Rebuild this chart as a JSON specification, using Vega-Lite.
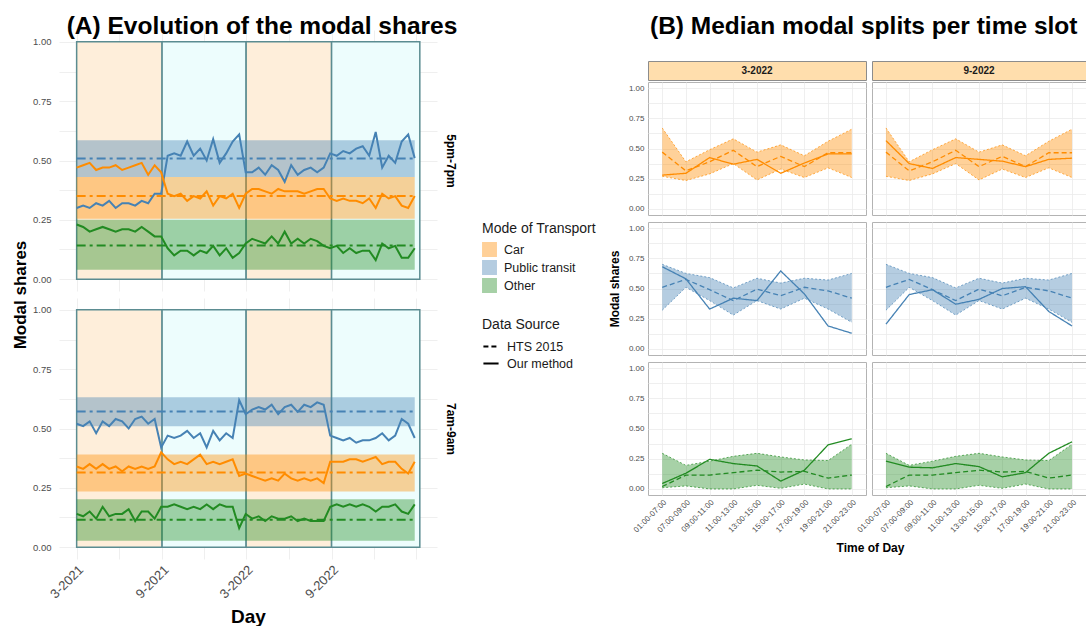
{
"$schema": "https://vega.github.io/schema/vega-lite/v6.json",
"background": "white",
"padding": {"left": 11, "top": 13, "right": 0, "bottom": 0},
"spacing": 149,
"datasets": {
"seasons": [
{"s":"summer","d":"2021-03-01","d2":"2021-09-01"},
{"s":"winter","d":"2021-09-01","d2":"2022-03-01"},
{"s":"summer","d":"2022-03-01","d2":"2022-09-01"},
{"s":"winter","d":"2022-09-01","d2":"2023-03-10"}],
"bands": [
{"p":"5pm-7pm","m":"Public transit","lo":0.43,"hi":0.585,"med":0.508,"d":"2021-03-01","d2":"2023-02-27"},
{"p":"5pm-7pm","m":"Car","lo":0.255,"hi":0.43,"med":0.35,"d":"2021-03-01","d2":"2023-02-27"},
{"p":"5pm-7pm","m":"Other","lo":0.04,"hi":0.25,"med":0.142,"d":"2021-03-01","d2":"2023-02-27"},
{"p":"7am-9am","m":"Public transit","lo":0.51,"hi":0.632,"med":0.572,"d":"2021-03-01","d2":"2023-02-27"},
{"p":"7am-9am","m":"Car","lo":0.235,"hi":0.39,"med":0.315,"d":"2021-03-01","d2":"2023-02-27"},
{"p":"7am-9am","m":"Other","lo":0.027,"hi":0.202,"med":0.115,"d":"2021-03-01","d2":"2023-02-27"}],
"strips": [{"c":"3-2022"},{"c":"9-2022"}],
"slots": [
{"m":"Car","c":"3-2022","t":"01:00-07:00","lo":0.27,"hi":0.67,"hts":0.47,"our":0.28},
{"m":"Car","c":"3-2022","t":"07:00-09:00","lo":0.235,"hi":0.39,"hts":0.315,"our":0.295},
{"m":"Car","c":"3-2022","t":"09:00-11:00","lo":0.29,"hi":0.49,"hts":0.39,"our":0.425},
{"m":"Car","c":"3-2022","t":"11:00-13:00","lo":0.375,"hi":0.58,"hts":0.485,"our":0.37},
{"m":"Car","c":"3-2022","t":"13:00-15:00","lo":0.24,"hi":0.47,"hts":0.35,"our":0.41},
{"m":"Car","c":"3-2022","t":"15:00-17:00","lo":0.33,"hi":0.53,"hts":0.435,"our":0.295},
{"m":"Car","c":"3-2022","t":"17:00-19:00","lo":0.26,"hi":0.44,"hts":0.35,"our":0.38},
{"m":"Car","c":"3-2022","t":"19:00-21:00","lo":0.34,"hi":0.56,"hts":0.465,"our":0.455},
{"m":"Car","c":"3-2022","t":"21:00-23:00","lo":0.26,"hi":0.66,"hts":0.465,"our":0.455},
{"m":"Car","c":"9-2022","t":"01:00-07:00","lo":0.27,"hi":0.67,"hts":0.47,"our":0.565},
{"m":"Car","c":"9-2022","t":"07:00-09:00","lo":0.235,"hi":0.39,"hts":0.315,"our":0.375},
{"m":"Car","c":"9-2022","t":"09:00-11:00","lo":0.29,"hi":0.49,"hts":0.39,"our":0.335},
{"m":"Car","c":"9-2022","t":"11:00-13:00","lo":0.375,"hi":0.58,"hts":0.485,"our":0.425},
{"m":"Car","c":"9-2022","t":"13:00-15:00","lo":0.24,"hi":0.47,"hts":0.35,"our":0.41},
{"m":"Car","c":"9-2022","t":"15:00-17:00","lo":0.33,"hi":0.53,"hts":0.435,"our":0.395},
{"m":"Car","c":"9-2022","t":"17:00-19:00","lo":0.26,"hi":0.44,"hts":0.35,"our":0.35},
{"m":"Car","c":"9-2022","t":"19:00-21:00","lo":0.34,"hi":0.56,"hts":0.465,"our":0.41},
{"m":"Car","c":"9-2022","t":"21:00-23:00","lo":0.26,"hi":0.66,"hts":0.465,"our":0.42},
{"m":"Public transit","c":"3-2022","t":"01:00-07:00","lo":0.32,"hi":0.70,"hts":0.51,"our":0.68},
{"m":"Public transit","c":"3-2022","t":"07:00-09:00","lo":0.51,"hi":0.625,"hts":0.575,"our":0.58},
{"m":"Public transit","c":"3-2022","t":"09:00-11:00","lo":0.40,"hi":0.59,"hts":0.49,"our":0.33},
{"m":"Public transit","c":"3-2022","t":"11:00-13:00","lo":0.28,"hi":0.505,"hts":0.40,"our":0.42},
{"m":"Public transit","c":"3-2022","t":"13:00-15:00","lo":0.40,"hi":0.585,"hts":0.495,"our":0.40},
{"m":"Public transit","c":"3-2022","t":"15:00-17:00","lo":0.33,"hi":0.545,"hts":0.44,"our":0.645},
{"m":"Public transit","c":"3-2022","t":"17:00-19:00","lo":0.42,"hi":0.585,"hts":0.51,"our":0.455},
{"m":"Public transit","c":"3-2022","t":"19:00-21:00","lo":0.33,"hi":0.57,"hts":0.48,"our":0.19},
{"m":"Public transit","c":"3-2022","t":"21:00-23:00","lo":0.22,"hi":0.625,"hts":0.42,"our":0.13},
{"m":"Public transit","c":"9-2022","t":"01:00-07:00","lo":0.32,"hi":0.70,"hts":0.51,"our":0.205},
{"m":"Public transit","c":"9-2022","t":"07:00-09:00","lo":0.51,"hi":0.625,"hts":0.575,"our":0.45},
{"m":"Public transit","c":"9-2022","t":"09:00-11:00","lo":0.40,"hi":0.59,"hts":0.49,"our":0.49},
{"m":"Public transit","c":"9-2022","t":"11:00-13:00","lo":0.28,"hi":0.505,"hts":0.40,"our":0.37},
{"m":"Public transit","c":"9-2022","t":"13:00-15:00","lo":0.40,"hi":0.585,"hts":0.495,"our":0.41},
{"m":"Public transit","c":"9-2022","t":"15:00-17:00","lo":0.33,"hi":0.545,"hts":0.44,"our":0.50},
{"m":"Public transit","c":"9-2022","t":"17:00-19:00","lo":0.42,"hi":0.585,"hts":0.51,"our":0.515},
{"m":"Public transit","c":"9-2022","t":"19:00-21:00","lo":0.33,"hi":0.57,"hts":0.48,"our":0.31},
{"m":"Public transit","c":"9-2022","t":"21:00-23:00","lo":0.22,"hi":0.625,"hts":0.42,"our":0.19},
{"m":"Other","c":"3-2022","t":"01:00-07:00","lo":0.01,"hi":0.295,"hts":0.02,"our":0.045},
{"m":"Other","c":"3-2022","t":"07:00-09:00","lo":0.025,"hi":0.195,"hts":0.115,"our":0.13},
{"m":"Other","c":"3-2022","t":"09:00-11:00","lo":0.0,"hi":0.23,"hts":0.115,"our":0.245},
{"m":"Other","c":"3-2022","t":"11:00-13:00","lo":0.0,"hi":0.27,"hts":0.135,"our":0.21},
{"m":"Other","c":"3-2022","t":"13:00-15:00","lo":0.03,"hi":0.295,"hts":0.155,"our":0.19},
{"m":"Other","c":"3-2022","t":"15:00-17:00","lo":0.005,"hi":0.265,"hts":0.14,"our":0.065},
{"m":"Other","c":"3-2022","t":"17:00-19:00","lo":0.04,"hi":0.24,"hts":0.145,"our":0.155},
{"m":"Other","c":"3-2022","t":"19:00-21:00","lo":0.0,"hi":0.235,"hts":0.09,"our":0.365},
{"m":"Other","c":"3-2022","t":"21:00-23:00","lo":0.0,"hi":0.37,"hts":0.115,"our":0.415},
{"m":"Other","c":"9-2022","t":"01:00-07:00","lo":0.01,"hi":0.295,"hts":0.02,"our":0.23},
{"m":"Other","c":"9-2022","t":"07:00-09:00","lo":0.025,"hi":0.195,"hts":0.115,"our":0.18},
{"m":"Other","c":"9-2022","t":"09:00-11:00","lo":0.0,"hi":0.23,"hts":0.115,"our":0.175},
{"m":"Other","c":"9-2022","t":"11:00-13:00","lo":0.0,"hi":0.27,"hts":0.135,"our":0.21},
{"m":"Other","c":"9-2022","t":"13:00-15:00","lo":0.03,"hi":0.295,"hts":0.155,"our":0.185},
{"m":"Other","c":"9-2022","t":"15:00-17:00","lo":0.005,"hi":0.265,"hts":0.14,"our":0.10},
{"m":"Other","c":"9-2022","t":"17:00-19:00","lo":0.04,"hi":0.24,"hts":0.145,"our":0.135},
{"m":"Other","c":"9-2022","t":"19:00-21:00","lo":0.0,"hi":0.235,"hts":0.09,"our":0.295},
{"m":"Other","c":"9-2022","t":"21:00-23:00","lo":0.0,"hi":0.37,"hts":0.115,"our":0.39}],
"series": [
{"p":"5pm-7pm","m":"Public transit","d":"2021-03-01","v":0.30},{"p":"5pm-7pm","m":"Public transit","d":"2021-03-15","v":0.31},{"p":"5pm-7pm","m":"Public transit","d":"2021-03-29","v":0.30},{"p":"5pm-7pm","m":"Public transit","d":"2021-04-12","v":0.32},{"p":"5pm-7pm","m":"Public transit","d":"2021-04-26","v":0.31},{"p":"5pm-7pm","m":"Public transit","d":"2021-05-10","v":0.33},{"p":"5pm-7pm","m":"Public transit","d":"2021-05-24","v":0.30},{"p":"5pm-7pm","m":"Public transit","d":"2021-06-07","v":0.32},{"p":"5pm-7pm","m":"Public transit","d":"2021-06-21","v":0.32},{"p":"5pm-7pm","m":"Public transit","d":"2021-07-05","v":0.31},{"p":"5pm-7pm","m":"Public transit","d":"2021-07-19","v":0.33},{"p":"5pm-7pm","m":"Public transit","d":"2021-08-02","v":0.32},{"p":"5pm-7pm","m":"Public transit","d":"2021-08-16","v":0.36},{"p":"5pm-7pm","m":"Public transit","d":"2021-08-30","v":0.36},{"p":"5pm-7pm","m":"Public transit","d":"2021-09-13","v":0.52},{"p":"5pm-7pm","m":"Public transit","d":"2021-09-27","v":0.53},{"p":"5pm-7pm","m":"Public transit","d":"2021-10-11","v":0.52},{"p":"5pm-7pm","m":"Public transit","d":"2021-10-25","v":0.58},{"p":"5pm-7pm","m":"Public transit","d":"2021-11-08","v":0.52},{"p":"5pm-7pm","m":"Public transit","d":"2021-11-22","v":0.55},{"p":"5pm-7pm","m":"Public transit","d":"2021-12-06","v":0.50},{"p":"5pm-7pm","m":"Public transit","d":"2021-12-20","v":0.59},{"p":"5pm-7pm","m":"Public transit","d":"2022-01-03","v":0.49},{"p":"5pm-7pm","m":"Public transit","d":"2022-01-17","v":0.53},{"p":"5pm-7pm","m":"Public transit","d":"2022-01-31","v":0.58},{"p":"5pm-7pm","m":"Public transit","d":"2022-02-14","v":0.61},{"p":"5pm-7pm","m":"Public transit","d":"2022-02-28","v":0.45},{"p":"5pm-7pm","m":"Public transit","d":"2022-03-14","v":0.45},{"p":"5pm-7pm","m":"Public transit","d":"2022-03-28","v":0.47},{"p":"5pm-7pm","m":"Public transit","d":"2022-04-11","v":0.44},{"p":"5pm-7pm","m":"Public transit","d":"2022-04-25","v":0.48},{"p":"5pm-7pm","m":"Public transit","d":"2022-05-09","v":0.46},{"p":"5pm-7pm","m":"Public transit","d":"2022-05-23","v":0.41},{"p":"5pm-7pm","m":"Public transit","d":"2022-06-06","v":0.48},{"p":"5pm-7pm","m":"Public transit","d":"2022-06-20","v":0.44},{"p":"5pm-7pm","m":"Public transit","d":"2022-07-04","v":0.46},{"p":"5pm-7pm","m":"Public transit","d":"2022-07-18","v":0.47},{"p":"5pm-7pm","m":"Public transit","d":"2022-08-01","v":0.45},{"p":"5pm-7pm","m":"Public transit","d":"2022-08-15","v":0.47},{"p":"5pm-7pm","m":"Public transit","d":"2022-08-29","v":0.53},{"p":"5pm-7pm","m":"Public transit","d":"2022-09-12","v":0.52},{"p":"5pm-7pm","m":"Public transit","d":"2022-09-26","v":0.54},{"p":"5pm-7pm","m":"Public transit","d":"2022-10-10","v":0.53},{"p":"5pm-7pm","m":"Public transit","d":"2022-10-24","v":0.55},{"p":"5pm-7pm","m":"Public transit","d":"2022-11-07","v":0.56},{"p":"5pm-7pm","m":"Public transit","d":"2022-11-21","v":0.52},{"p":"5pm-7pm","m":"Public transit","d":"2022-12-05","v":0.62},{"p":"5pm-7pm","m":"Public transit","d":"2022-12-19","v":0.47},{"p":"5pm-7pm","m":"Public transit","d":"2023-01-02","v":0.52},{"p":"5pm-7pm","m":"Public transit","d":"2023-01-16","v":0.49},{"p":"5pm-7pm","m":"Public transit","d":"2023-01-30","v":0.58},{"p":"5pm-7pm","m":"Public transit","d":"2023-02-13","v":0.61},{"p":"5pm-7pm","m":"Public transit","d":"2023-02-27","v":0.51},
{"p":"5pm-7pm","m":"Car","d":"2021-03-01","v":0.47},{"p":"5pm-7pm","m":"Car","d":"2021-03-15","v":0.48},{"p":"5pm-7pm","m":"Car","d":"2021-03-29","v":0.49},{"p":"5pm-7pm","m":"Car","d":"2021-04-12","v":0.46},{"p":"5pm-7pm","m":"Car","d":"2021-04-26","v":0.47},{"p":"5pm-7pm","m":"Car","d":"2021-05-10","v":0.47},{"p":"5pm-7pm","m":"Car","d":"2021-05-24","v":0.48},{"p":"5pm-7pm","m":"Car","d":"2021-06-07","v":0.46},{"p":"5pm-7pm","m":"Car","d":"2021-06-21","v":0.47},{"p":"5pm-7pm","m":"Car","d":"2021-07-05","v":0.48},{"p":"5pm-7pm","m":"Car","d":"2021-07-19","v":0.49},{"p":"5pm-7pm","m":"Car","d":"2021-08-02","v":0.44},{"p":"5pm-7pm","m":"Car","d":"2021-08-16","v":0.48},{"p":"5pm-7pm","m":"Car","d":"2021-08-30","v":0.45},{"p":"5pm-7pm","m":"Car","d":"2021-09-13","v":0.36},{"p":"5pm-7pm","m":"Car","d":"2021-09-27","v":0.35},{"p":"5pm-7pm","m":"Car","d":"2021-10-11","v":0.36},{"p":"5pm-7pm","m":"Car","d":"2021-10-25","v":0.33},{"p":"5pm-7pm","m":"Car","d":"2021-11-08","v":0.35},{"p":"5pm-7pm","m":"Car","d":"2021-11-22","v":0.34},{"p":"5pm-7pm","m":"Car","d":"2021-12-06","v":0.37},{"p":"5pm-7pm","m":"Car","d":"2021-12-20","v":0.31},{"p":"5pm-7pm","m":"Car","d":"2022-01-03","v":0.35},{"p":"5pm-7pm","m":"Car","d":"2022-01-17","v":0.34},{"p":"5pm-7pm","m":"Car","d":"2022-01-31","v":0.36},{"p":"5pm-7pm","m":"Car","d":"2022-02-14","v":0.30},{"p":"5pm-7pm","m":"Car","d":"2022-02-28","v":0.36},{"p":"5pm-7pm","m":"Car","d":"2022-03-14","v":0.38},{"p":"5pm-7pm","m":"Car","d":"2022-03-28","v":0.38},{"p":"5pm-7pm","m":"Car","d":"2022-04-11","v":0.37},{"p":"5pm-7pm","m":"Car","d":"2022-04-25","v":0.36},{"p":"5pm-7pm","m":"Car","d":"2022-05-09","v":0.38},{"p":"5pm-7pm","m":"Car","d":"2022-05-23","v":0.37},{"p":"5pm-7pm","m":"Car","d":"2022-06-06","v":0.37},{"p":"5pm-7pm","m":"Car","d":"2022-06-20","v":0.37},{"p":"5pm-7pm","m":"Car","d":"2022-07-04","v":0.36},{"p":"5pm-7pm","m":"Car","d":"2022-07-18","v":0.37},{"p":"5pm-7pm","m":"Car","d":"2022-08-01","v":0.38},{"p":"5pm-7pm","m":"Car","d":"2022-08-15","v":0.38},{"p":"5pm-7pm","m":"Car","d":"2022-08-29","v":0.34},{"p":"5pm-7pm","m":"Car","d":"2022-09-12","v":0.33},{"p":"5pm-7pm","m":"Car","d":"2022-09-26","v":0.34},{"p":"5pm-7pm","m":"Car","d":"2022-10-10","v":0.33},{"p":"5pm-7pm","m":"Car","d":"2022-10-24","v":0.33},{"p":"5pm-7pm","m":"Car","d":"2022-11-07","v":0.32},{"p":"5pm-7pm","m":"Car","d":"2022-11-21","v":0.34},{"p":"5pm-7pm","m":"Car","d":"2022-12-05","v":0.30},{"p":"5pm-7pm","m":"Car","d":"2022-12-19","v":0.36},{"p":"5pm-7pm","m":"Car","d":"2023-01-02","v":0.34},{"p":"5pm-7pm","m":"Car","d":"2023-01-16","v":0.35},{"p":"5pm-7pm","m":"Car","d":"2023-01-30","v":0.31},{"p":"5pm-7pm","m":"Car","d":"2023-02-13","v":0.30},{"p":"5pm-7pm","m":"Car","d":"2023-02-27","v":0.35},
{"p":"5pm-7pm","m":"Other","d":"2021-03-01","v":0.23},{"p":"5pm-7pm","m":"Other","d":"2021-03-15","v":0.22},{"p":"5pm-7pm","m":"Other","d":"2021-03-29","v":0.20},{"p":"5pm-7pm","m":"Other","d":"2021-04-12","v":0.21},{"p":"5pm-7pm","m":"Other","d":"2021-04-26","v":0.22},{"p":"5pm-7pm","m":"Other","d":"2021-05-10","v":0.21},{"p":"5pm-7pm","m":"Other","d":"2021-05-24","v":0.20},{"p":"5pm-7pm","m":"Other","d":"2021-06-07","v":0.21},{"p":"5pm-7pm","m":"Other","d":"2021-06-21","v":0.21},{"p":"5pm-7pm","m":"Other","d":"2021-07-05","v":0.20},{"p":"5pm-7pm","m":"Other","d":"2021-07-19","v":0.22},{"p":"5pm-7pm","m":"Other","d":"2021-08-02","v":0.20},{"p":"5pm-7pm","m":"Other","d":"2021-08-16","v":0.18},{"p":"5pm-7pm","m":"Other","d":"2021-08-30","v":0.18},{"p":"5pm-7pm","m":"Other","d":"2021-09-13","v":0.13},{"p":"5pm-7pm","m":"Other","d":"2021-09-27","v":0.10},{"p":"5pm-7pm","m":"Other","d":"2021-10-11","v":0.12},{"p":"5pm-7pm","m":"Other","d":"2021-10-25","v":0.12},{"p":"5pm-7pm","m":"Other","d":"2021-11-08","v":0.10},{"p":"5pm-7pm","m":"Other","d":"2021-11-22","v":0.12},{"p":"5pm-7pm","m":"Other","d":"2021-12-06","v":0.11},{"p":"5pm-7pm","m":"Other","d":"2021-12-20","v":0.14},{"p":"5pm-7pm","m":"Other","d":"2022-01-03","v":0.10},{"p":"5pm-7pm","m":"Other","d":"2022-01-17","v":0.13},{"p":"5pm-7pm","m":"Other","d":"2022-01-31","v":0.09},{"p":"5pm-7pm","m":"Other","d":"2022-02-14","v":0.11},{"p":"5pm-7pm","m":"Other","d":"2022-02-28","v":0.15},{"p":"5pm-7pm","m":"Other","d":"2022-03-14","v":0.17},{"p":"5pm-7pm","m":"Other","d":"2022-03-28","v":0.16},{"p":"5pm-7pm","m":"Other","d":"2022-04-11","v":0.15},{"p":"5pm-7pm","m":"Other","d":"2022-04-25","v":0.18},{"p":"5pm-7pm","m":"Other","d":"2022-05-09","v":0.15},{"p":"5pm-7pm","m":"Other","d":"2022-05-23","v":0.20},{"p":"5pm-7pm","m":"Other","d":"2022-06-06","v":0.15},{"p":"5pm-7pm","m":"Other","d":"2022-06-20","v":0.17},{"p":"5pm-7pm","m":"Other","d":"2022-07-04","v":0.15},{"p":"5pm-7pm","m":"Other","d":"2022-07-18","v":0.17},{"p":"5pm-7pm","m":"Other","d":"2022-08-01","v":0.16},{"p":"5pm-7pm","m":"Other","d":"2022-08-15","v":0.14},{"p":"5pm-7pm","m":"Other","d":"2022-08-29","v":0.13},{"p":"5pm-7pm","m":"Other","d":"2022-09-12","v":0.14},{"p":"5pm-7pm","m":"Other","d":"2022-09-26","v":0.11},{"p":"5pm-7pm","m":"Other","d":"2022-10-10","v":0.13},{"p":"5pm-7pm","m":"Other","d":"2022-10-24","v":0.11},{"p":"5pm-7pm","m":"Other","d":"2022-11-07","v":0.12},{"p":"5pm-7pm","m":"Other","d":"2022-11-21","v":0.12},{"p":"5pm-7pm","m":"Other","d":"2022-12-05","v":0.08},{"p":"5pm-7pm","m":"Other","d":"2022-12-19","v":0.15},{"p":"5pm-7pm","m":"Other","d":"2023-01-02","v":0.13},{"p":"5pm-7pm","m":"Other","d":"2023-01-16","v":0.14},{"p":"5pm-7pm","m":"Other","d":"2023-01-30","v":0.09},{"p":"5pm-7pm","m":"Other","d":"2023-02-13","v":0.09},{"p":"5pm-7pm","m":"Other","d":"2023-02-27","v":0.13},
{"p":"7am-9am","m":"Public transit","d":"2021-03-01","v":0.52},{"p":"7am-9am","m":"Public transit","d":"2021-03-15","v":0.51},{"p":"7am-9am","m":"Public transit","d":"2021-03-29","v":0.53},{"p":"7am-9am","m":"Public transit","d":"2021-04-12","v":0.48},{"p":"7am-9am","m":"Public transit","d":"2021-04-26","v":0.53},{"p":"7am-9am","m":"Public transit","d":"2021-05-10","v":0.51},{"p":"7am-9am","m":"Public transit","d":"2021-05-24","v":0.54},{"p":"7am-9am","m":"Public transit","d":"2021-06-07","v":0.53},{"p":"7am-9am","m":"Public transit","d":"2021-06-21","v":0.50},{"p":"7am-9am","m":"Public transit","d":"2021-07-05","v":0.54},{"p":"7am-9am","m":"Public transit","d":"2021-07-19","v":0.55},{"p":"7am-9am","m":"Public transit","d":"2021-08-02","v":0.52},{"p":"7am-9am","m":"Public transit","d":"2021-08-16","v":0.54},{"p":"7am-9am","m":"Public transit","d":"2021-08-30","v":0.42},{"p":"7am-9am","m":"Public transit","d":"2021-09-13","v":0.47},{"p":"7am-9am","m":"Public transit","d":"2021-09-27","v":0.46},{"p":"7am-9am","m":"Public transit","d":"2021-10-11","v":0.47},{"p":"7am-9am","m":"Public transit","d":"2021-10-25","v":0.49},{"p":"7am-9am","m":"Public transit","d":"2021-11-08","v":0.46},{"p":"7am-9am","m":"Public transit","d":"2021-11-22","v":0.48},{"p":"7am-9am","m":"Public transit","d":"2021-12-06","v":0.42},{"p":"7am-9am","m":"Public transit","d":"2021-12-20","v":0.49},{"p":"7am-9am","m":"Public transit","d":"2022-01-03","v":0.45},{"p":"7am-9am","m":"Public transit","d":"2022-01-17","v":0.48},{"p":"7am-9am","m":"Public transit","d":"2022-01-31","v":0.46},{"p":"7am-9am","m":"Public transit","d":"2022-02-14","v":0.62},{"p":"7am-9am","m":"Public transit","d":"2022-02-28","v":0.56},{"p":"7am-9am","m":"Public transit","d":"2022-03-14","v":0.58},{"p":"7am-9am","m":"Public transit","d":"2022-03-28","v":0.59},{"p":"7am-9am","m":"Public transit","d":"2022-04-11","v":0.58},{"p":"7am-9am","m":"Public transit","d":"2022-04-25","v":0.60},{"p":"7am-9am","m":"Public transit","d":"2022-05-09","v":0.56},{"p":"7am-9am","m":"Public transit","d":"2022-05-23","v":0.59},{"p":"7am-9am","m":"Public transit","d":"2022-06-06","v":0.60},{"p":"7am-9am","m":"Public transit","d":"2022-06-20","v":0.57},{"p":"7am-9am","m":"Public transit","d":"2022-07-04","v":0.60},{"p":"7am-9am","m":"Public transit","d":"2022-07-18","v":0.59},{"p":"7am-9am","m":"Public transit","d":"2022-08-01","v":0.61},{"p":"7am-9am","m":"Public transit","d":"2022-08-15","v":0.60},{"p":"7am-9am","m":"Public transit","d":"2022-08-29","v":0.47},{"p":"7am-9am","m":"Public transit","d":"2022-09-12","v":0.46},{"p":"7am-9am","m":"Public transit","d":"2022-09-26","v":0.45},{"p":"7am-9am","m":"Public transit","d":"2022-10-10","v":0.46},{"p":"7am-9am","m":"Public transit","d":"2022-10-24","v":0.44},{"p":"7am-9am","m":"Public transit","d":"2022-11-07","v":0.45},{"p":"7am-9am","m":"Public transit","d":"2022-11-21","v":0.45},{"p":"7am-9am","m":"Public transit","d":"2022-12-05","v":0.46},{"p":"7am-9am","m":"Public transit","d":"2022-12-19","v":0.48},{"p":"7am-9am","m":"Public transit","d":"2023-01-02","v":0.45},{"p":"7am-9am","m":"Public transit","d":"2023-01-16","v":0.47},{"p":"7am-9am","m":"Public transit","d":"2023-01-30","v":0.54},{"p":"7am-9am","m":"Public transit","d":"2023-02-13","v":0.52},{"p":"7am-9am","m":"Public transit","d":"2023-02-27","v":0.46},
{"p":"7am-9am","m":"Car","d":"2021-03-01","v":0.34},{"p":"7am-9am","m":"Car","d":"2021-03-15","v":0.33},{"p":"7am-9am","m":"Car","d":"2021-03-29","v":0.35},{"p":"7am-9am","m":"Car","d":"2021-04-12","v":0.33},{"p":"7am-9am","m":"Car","d":"2021-04-26","v":0.35},{"p":"7am-9am","m":"Car","d":"2021-05-10","v":0.33},{"p":"7am-9am","m":"Car","d":"2021-05-24","v":0.34},{"p":"7am-9am","m":"Car","d":"2021-06-07","v":0.32},{"p":"7am-9am","m":"Car","d":"2021-06-21","v":0.34},{"p":"7am-9am","m":"Car","d":"2021-07-05","v":0.33},{"p":"7am-9am","m":"Car","d":"2021-07-19","v":0.34},{"p":"7am-9am","m":"Car","d":"2021-08-02","v":0.33},{"p":"7am-9am","m":"Car","d":"2021-08-16","v":0.34},{"p":"7am-9am","m":"Car","d":"2021-08-30","v":0.40},{"p":"7am-9am","m":"Car","d":"2021-09-13","v":0.37},{"p":"7am-9am","m":"Car","d":"2021-09-27","v":0.35},{"p":"7am-9am","m":"Car","d":"2021-10-11","v":0.36},{"p":"7am-9am","m":"Car","d":"2021-10-25","v":0.35},{"p":"7am-9am","m":"Car","d":"2021-11-08","v":0.37},{"p":"7am-9am","m":"Car","d":"2021-11-22","v":0.39},{"p":"7am-9am","m":"Car","d":"2021-12-06","v":0.35},{"p":"7am-9am","m":"Car","d":"2021-12-20","v":0.36},{"p":"7am-9am","m":"Car","d":"2022-01-03","v":0.35},{"p":"7am-9am","m":"Car","d":"2022-01-17","v":0.36},{"p":"7am-9am","m":"Car","d":"2022-01-31","v":0.37},{"p":"7am-9am","m":"Car","d":"2022-02-14","v":0.30},{"p":"7am-9am","m":"Car","d":"2022-02-28","v":0.31},{"p":"7am-9am","m":"Car","d":"2022-03-14","v":0.30},{"p":"7am-9am","m":"Car","d":"2022-03-28","v":0.29},{"p":"7am-9am","m":"Car","d":"2022-04-11","v":0.28},{"p":"7am-9am","m":"Car","d":"2022-04-25","v":0.29},{"p":"7am-9am","m":"Car","d":"2022-05-09","v":0.28},{"p":"7am-9am","m":"Car","d":"2022-05-23","v":0.31},{"p":"7am-9am","m":"Car","d":"2022-06-06","v":0.29},{"p":"7am-9am","m":"Car","d":"2022-06-20","v":0.28},{"p":"7am-9am","m":"Car","d":"2022-07-04","v":0.29},{"p":"7am-9am","m":"Car","d":"2022-07-18","v":0.28},{"p":"7am-9am","m":"Car","d":"2022-08-01","v":0.29},{"p":"7am-9am","m":"Car","d":"2022-08-15","v":0.27},{"p":"7am-9am","m":"Car","d":"2022-08-29","v":0.36},{"p":"7am-9am","m":"Car","d":"2022-09-12","v":0.36},{"p":"7am-9am","m":"Car","d":"2022-09-26","v":0.36},{"p":"7am-9am","m":"Car","d":"2022-10-10","v":0.37},{"p":"7am-9am","m":"Car","d":"2022-10-24","v":0.37},{"p":"7am-9am","m":"Car","d":"2022-11-07","v":0.36},{"p":"7am-9am","m":"Car","d":"2022-11-21","v":0.37},{"p":"7am-9am","m":"Car","d":"2022-12-05","v":0.38},{"p":"7am-9am","m":"Car","d":"2022-12-19","v":0.35},{"p":"7am-9am","m":"Car","d":"2023-01-02","v":0.36},{"p":"7am-9am","m":"Car","d":"2023-01-16","v":0.36},{"p":"7am-9am","m":"Car","d":"2023-01-30","v":0.33},{"p":"7am-9am","m":"Car","d":"2023-02-13","v":0.31},{"p":"7am-9am","m":"Car","d":"2023-02-27","v":0.36},
{"p":"7am-9am","m":"Other","d":"2021-03-01","v":0.14},{"p":"7am-9am","m":"Other","d":"2021-03-15","v":0.13},{"p":"7am-9am","m":"Other","d":"2021-03-29","v":0.15},{"p":"7am-9am","m":"Other","d":"2021-04-12","v":0.12},{"p":"7am-9am","m":"Other","d":"2021-04-26","v":0.17},{"p":"7am-9am","m":"Other","d":"2021-05-10","v":0.13},{"p":"7am-9am","m":"Other","d":"2021-05-24","v":0.14},{"p":"7am-9am","m":"Other","d":"2021-06-07","v":0.14},{"p":"7am-9am","m":"Other","d":"2021-06-21","v":0.16},{"p":"7am-9am","m":"Other","d":"2021-07-05","v":0.11},{"p":"7am-9am","m":"Other","d":"2021-07-19","v":0.15},{"p":"7am-9am","m":"Other","d":"2021-08-02","v":0.15},{"p":"7am-9am","m":"Other","d":"2021-08-16","v":0.12},{"p":"7am-9am","m":"Other","d":"2021-08-30","v":0.17},{"p":"7am-9am","m":"Other","d":"2021-09-13","v":0.17},{"p":"7am-9am","m":"Other","d":"2021-09-27","v":0.18},{"p":"7am-9am","m":"Other","d":"2021-10-11","v":0.17},{"p":"7am-9am","m":"Other","d":"2021-10-25","v":0.16},{"p":"7am-9am","m":"Other","d":"2021-11-08","v":0.17},{"p":"7am-9am","m":"Other","d":"2021-11-22","v":0.16},{"p":"7am-9am","m":"Other","d":"2021-12-06","v":0.18},{"p":"7am-9am","m":"Other","d":"2021-12-20","v":0.16},{"p":"7am-9am","m":"Other","d":"2022-01-03","v":0.18},{"p":"7am-9am","m":"Other","d":"2022-01-17","v":0.17},{"p":"7am-9am","m":"Other","d":"2022-01-31","v":0.17},{"p":"7am-9am","m":"Other","d":"2022-02-14","v":0.08},{"p":"7am-9am","m":"Other","d":"2022-02-28","v":0.14},{"p":"7am-9am","m":"Other","d":"2022-03-14","v":0.12},{"p":"7am-9am","m":"Other","d":"2022-03-28","v":0.13},{"p":"7am-9am","m":"Other","d":"2022-04-11","v":0.11},{"p":"7am-9am","m":"Other","d":"2022-04-25","v":0.13},{"p":"7am-9am","m":"Other","d":"2022-05-09","v":0.12},{"p":"7am-9am","m":"Other","d":"2022-05-23","v":0.12},{"p":"7am-9am","m":"Other","d":"2022-06-06","v":0.13},{"p":"7am-9am","m":"Other","d":"2022-06-20","v":0.11},{"p":"7am-9am","m":"Other","d":"2022-07-04","v":0.12},{"p":"7am-9am","m":"Other","d":"2022-07-18","v":0.11},{"p":"7am-9am","m":"Other","d":"2022-08-01","v":0.11},{"p":"7am-9am","m":"Other","d":"2022-08-15","v":0.11},{"p":"7am-9am","m":"Other","d":"2022-08-29","v":0.17},{"p":"7am-9am","m":"Other","d":"2022-09-12","v":0.18},{"p":"7am-9am","m":"Other","d":"2022-09-26","v":0.17},{"p":"7am-9am","m":"Other","d":"2022-10-10","v":0.18},{"p":"7am-9am","m":"Other","d":"2022-10-24","v":0.17},{"p":"7am-9am","m":"Other","d":"2022-11-07","v":0.18},{"p":"7am-9am","m":"Other","d":"2022-11-21","v":0.17},{"p":"7am-9am","m":"Other","d":"2022-12-05","v":0.15},{"p":"7am-9am","m":"Other","d":"2022-12-19","v":0.17},{"p":"7am-9am","m":"Other","d":"2023-01-02","v":0.17},{"p":"7am-9am","m":"Other","d":"2023-01-16","v":0.18},{"p":"7am-9am","m":"Other","d":"2023-01-30","v":0.15},{"p":"7am-9am","m":"Other","d":"2023-02-13","v":0.14},{"p":"7am-9am","m":"Other","d":"2023-02-27","v":0.18}]
},
"hconcat": [
{
"bounds": "flush",
"spacing": 7,
"vconcat": [
{
"width": 378, "height": 261,
"title": {"text": "(A) Evolution of the modal shares", "fontSize": 24.5, "anchor": "middle", "frame": "group", "dx": 14, "offset": -9},
"resolve": {"axis": {"y": "independent"}},
"encoding": {"x": {"field": "d", "type": "temporal", "scale": {"type": "utc", "domain": [{"year":2021,"month":1,"date":22,"utc":true},{"year":2023,"month":4,"date":16,"utc":true}]}, "axis": {"values": [{"year":2021,"month":3,"date":1,"utc":true},{"year":2021,"month":6,"date":1,"utc":true},{"year":2021,"month":9,"date":1,"utc":true},{"year":2021,"month":12,"date":1,"utc":true},{"year":2022,"month":3,"date":1,"utc":true},{"year":2022,"month":6,"date":1,"utc":true},{"year":2022,"month":9,"date":1,"utc":true},{"year":2022,"month":12,"date":1,"utc":true},{"year":2023,"month":3,"date":1,"utc":true}], "labels": false, "title": null, "grid": true}}},
"layer": [
{"data": {"name": "seasons"}, "mark": {"type": "rect", "stroke": "#5B8C91", "strokeWidth": 1.5}, "encoding": {"x2": {"field": "d2"}, "y": {"datum": 0, "type": "quantitative", "scale": {"domain": [-0.05, 1.05], "nice": false, "zero": false}, "axis": {"values": [0,0.125,0.25,0.375,0.5,0.625,0.75,0.875,1], "labelExpr": "(datum.value*4) % 1 === 0 ? format(datum.value, '.2f') : ''", "labelFontSize": 9.5, "labelPadding": 8, "title": "Modal shares", "titleFontSize": 17, "titlePadding": 3, "titleY": 264.5, "grid": true}}, "y2": {"datum": 1}, "fill": {"condition": {"test": "datum.s === 'summer'", "value": "#FEEEDA"}, "value": "#EDFDFD"}}},
{"data": {"name": "bands"}, "transform": [{"filter": "datum.p === '5pm-7pm'"}], "mark": {"type": "rect", "opacity": 0.4}, "encoding": {"x2": {"field": "d2"}, "y": {"field": "lo", "type": "quantitative", "scale": {"domain": [-0.05, 1.05], "nice": false, "zero": false}, "axis": {"orient": "right", "labels": false, "grid": false, "title": "5pm-7pm", "titleFontSize": 12, "titlePadding": 6}}, "y2": {"field": "hi"}, "color": {"field": "m", "type": "nominal", "scale": {"domain": ["Car","Public transit","Other"], "range": ["#FF8C00","#4682B4","#228B22"]}, "title": "Mode of Transport"}}},
{"data": {"name": "bands"}, "transform": [{"filter": "datum.p === '5pm-7pm'"}], "mark": {"type": "rule", "strokeDash": [9,4,3,4], "strokeWidth": 2}, "encoding": {"x2": {"field": "d2"}, "y": {"field": "med", "type": "quantitative", "scale": {"domain": [-0.05, 1.05], "nice": false, "zero": false}, "axis": null}, "color": {"field": "m", "type": "nominal", "scale": {"domain": ["Car","Public transit","Other"], "range": ["#FF8C00","#4682B4","#228B22"]}, "title": "Mode of Transport"}}},
{"data": {"name": "series"}, "transform": [{"filter": "datum.p === '5pm-7pm'"}], "mark": {"type": "line", "strokeWidth": 2}, "encoding": {"y": {"field": "v", "type": "quantitative", "scale": {"domain": [-0.05, 1.05], "nice": false, "zero": false}, "axis": null}, "color": {"field": "m", "type": "nominal", "scale": {"domain": ["Car","Public transit","Other"], "range": ["#FF8C00","#4682B4","#228B22"]}, "title": "Mode of Transport", "legend": {"orient": "none", "legendX": 423, "legendY": 192, "symbolType": "square", "symbolSize": 180, "rowPadding": -5.5, "labelOffset": 7, "titlePadding": 6}}}}
]
},
{
"width": 378, "height": 261,
"resolve": {"axis": {"y": "independent"}},
"encoding": {"x": {"field": "d", "type": "temporal", "scale": {"type": "utc", "domain": [{"year":2021,"month":1,"date":22,"utc":true},{"year":2023,"month":4,"date":16,"utc":true}]}, "axis": {"values": [{"year":2021,"month":3,"date":1,"utc":true},{"year":2021,"month":6,"date":1,"utc":true},{"year":2021,"month":9,"date":1,"utc":true},{"year":2021,"month":12,"date":1,"utc":true},{"year":2022,"month":3,"date":1,"utc":true},{"year":2022,"month":6,"date":1,"utc":true},{"year":2022,"month":9,"date":1,"utc":true},{"year":2022,"month":12,"date":1,"utc":true},{"year":2023,"month":3,"date":1,"utc":true}], "labelExpr": "indexof(['3-2021','9-2021','3-2022','9-2022'], utcFormat(datum.value, '%-m-%Y')) >= 0 ? utcFormat(datum.value, '%-m-%Y') : ''", "labelAngle": -45, "labelAlign": "right", "labelBaseline": "top", "labelFontSize": 13, "labelPadding": 4, "title": "Day", "titleFontSize": 19, "titlePadding": 7, "grid": true}}},
"layer": [
{"data": {"name": "seasons"}, "mark": {"type": "rect", "stroke": "#5B8C91", "strokeWidth": 1.5}, "encoding": {"x2": {"field": "d2"}, "y": {"datum": 0, "type": "quantitative", "scale": {"domain": [-0.05, 1.05], "nice": false, "zero": false}, "axis": {"values": [0,0.125,0.25,0.375,0.5,0.625,0.75,0.875,1], "labelExpr": "(datum.value*4) % 1 === 0 ? format(datum.value, '.2f') : ''", "labelFontSize": 9.5, "labelPadding": 8, "title": null, "grid": true}}, "y2": {"datum": 1}, "fill": {"condition": {"test": "datum.s === 'summer'", "value": "#FEEEDA"}, "value": "#EDFDFD"}}},
{"data": {"name": "bands"}, "transform": [{"filter": "datum.p === '7am-9am'"}], "mark": {"type": "rect", "opacity": 0.4}, "encoding": {"x2": {"field": "d2"}, "y": {"field": "lo", "type": "quantitative", "scale": {"domain": [-0.05, 1.05], "nice": false, "zero": false}, "axis": {"orient": "right", "labels": false, "grid": false, "title": "7am-9am", "titleFontSize": 12, "titlePadding": 6}}, "y2": {"field": "hi"}, "color": {"field": "m", "type": "nominal", "scale": {"domain": ["Car","Public transit","Other"], "range": ["#FF8C00","#4682B4","#228B22"]}, "title": "Mode of Transport"}}},
{"data": {"name": "bands"}, "transform": [{"filter": "datum.p === '7am-9am'"}], "mark": {"type": "rule", "strokeDash": [9,4,3,4], "strokeWidth": 2}, "encoding": {"x2": {"field": "d2"}, "y": {"field": "med", "type": "quantitative", "scale": {"domain": [-0.05, 1.05], "nice": false, "zero": false}, "axis": null}, "color": {"field": "m", "type": "nominal", "scale": {"domain": ["Car","Public transit","Other"], "range": ["#FF8C00","#4682B4","#228B22"]}, "title": "Mode of Transport"}}},
{"data": {"name": "series"}, "transform": [{"filter": "datum.p === '7am-9am'"}], "mark": {"type": "line", "strokeWidth": 2}, "encoding": {"y": {"field": "v", "type": "quantitative", "scale": {"domain": [-0.05, 1.05], "nice": false, "zero": false}, "axis": null}, "color": {"field": "m", "type": "nominal", "scale": {"domain": ["Car","Public transit","Other"], "range": ["#FF8C00","#4682B4","#228B22"]}, "title": "Mode of Transport"}}}
]
}
]
},
{
"spacing": 5,
"vconcat": [
{"width": 218, "height": 25, "title": {"text": "(B) Median modal splits per time slot", "fontSize": 24.5, "anchor": "start", "frame": "group", "dx": 2, "offset": -9}, "data": {"name": "strips"}, "transform": [{"filter": "datum.c === '3-2022'"}], "mark": {"type": "text", "opacity": 0}, "encoding": {"text": {"field": "c"}, "y": {"field": "c", "type": "nominal", "axis": {"labels": false, "grid": false, "title": " ", "titleFontSize": 12, "titlePadding": 5, "minExtent": 22, "maxExtent": 22}}}},
{"spacing": 0, "vconcat": [
{"bounds": "flush", "spacing": 6, "hconcat": [
{"width": 218, "height": 19, "view": {"fill": "#FFDEAD", "stroke": "#8C8C8C"}, "data": {"name": "strips"}, "transform": [{"filter": "datum.c === '3-2022'"}], "mark": {"type": "text", "fontSize": 10, "fontWeight": "bold", "color": "#1A1A1A"}, "encoding": {"text": {"field": "c"}, "y": {"field": "c", "type": "nominal", "axis": {"labels": false, "grid": false, "title": " ", "titleFontSize": 12, "titlePadding": 5, "minExtent": 22, "maxExtent": 22}}}},
{"width": 214, "height": 19, "view": {"fill": "#FFDEAD", "stroke": "#8C8C8C"}, "data": {"name": "strips"}, "transform": [{"filter": "datum.c === '9-2022'"}], "mark": {"type": "text", "fontSize": 10, "fontWeight": "bold", "color": "#1A1A1A"}, "encoding": {"text": {"field": "c"}, "y": {"field": "c", "type": "nominal", "axis": null}}}
]},
{"bounds": "flush", "spacing": 6, "hconcat": [
{"width": 218, "height": 133, "view": {"stroke": "#B3B3B3"}, "data": {"name": "slots"}, "transform": [{"filter": "datum.m === 'Car' && datum.c === '3-2022'"}], "resolve": {"axis": {"y": "independent"}},
"encoding": {"x": {"field": "t", "type": "ordinal", "scale": {"type": "point", "padding": 0.6}, "axis": {"labels": false, "title": null, "grid": true}}},
"layer": [
{"mark": {"type": "area", "opacity": 0.4}, "encoding": {"y": {"field": "lo", "type": "quantitative", "scale": {"domain": [-0.05, 1.05], "nice": false, "zero": false}, "axis": {"values": [0,0.125,0.25,0.375,0.5,0.625,0.75,0.875,1], "labelExpr": "(datum.value*4) % 1 === 0 ? format(datum.value, '.2f') : ''", "labelFontSize": 8, "labelPadding": 4, "title": " ", "titleFontSize": 12, "titlePadding": 5, "minExtent": 22, "maxExtent": 22, "grid": true}}, "y2": {"field": "hi"}, "color": {"field": "m", "type": "nominal", "scale": {"domain": ["Car","Public transit","Other"], "range": ["#FF8C00","#4682B4","#228B22"]}, "title": "Mode of Transport"}}},
{"mark": {"type": "line", "strokeDash": [2,2], "strokeWidth": 0.7}, "encoding": {"y": {"field": "lo", "type": "quantitative", "scale": {"domain": [-0.05, 1.05], "nice": false, "zero": false}, "axis": null}, "color": {"field": "m", "type": "nominal", "scale": {"domain": ["Car","Public transit","Other"], "range": ["#FF8C00","#4682B4","#228B22"]}, "title": "Mode of Transport"}}},
{"mark": {"type": "line", "strokeDash": [2,2], "strokeWidth": 0.7}, "encoding": {"y": {"field": "hi", "type": "quantitative", "scale": {"domain": [-0.05, 1.05], "nice": false, "zero": false}, "axis": null}, "color": {"field": "m", "type": "nominal", "scale": {"domain": ["Car","Public transit","Other"], "range": ["#FF8C00","#4682B4","#228B22"]}, "title": "Mode of Transport"}}},
{"mark": {"type": "line", "strokeWidth": 1.3}, "encoding": {"y": {"field": "hts", "type": "quantitative", "scale": {"domain": [-0.05, 1.05], "nice": false, "zero": false}, "axis": null}, "color": {"field": "m", "type": "nominal", "scale": {"domain": ["Car","Public transit","Other"], "range": ["#FF8C00","#4682B4","#228B22"]}, "title": "Mode of Transport"}, "strokeDash": {"datum": "HTS 2015", "type": "nominal", "scale": {"domain": ["HTS 2015","Our method"], "range": [[5,3],[1,0]]}, "title": "Data Source", "legend": {"orient": "none", "legendX": 423, "legendY": 287.5, "symbolType": "stroke", "symbolSize": 230, "symbolStrokeColor": "#000", "symbolStrokeWidth": 2.2, "rowPadding": 1, "labelOffset": 7, "titlePadding": 6}}}},
{"mark": {"type": "line", "strokeWidth": 1.3}, "encoding": {"y": {"field": "our", "type": "quantitative", "scale": {"domain": [-0.05, 1.05], "nice": false, "zero": false}, "axis": null}, "color": {"field": "m", "type": "nominal", "scale": {"domain": ["Car","Public transit","Other"], "range": ["#FF8C00","#4682B4","#228B22"]}, "title": "Mode of Transport"}, "strokeDash": {"datum": "Our method", "type": "nominal", "scale": {"domain": ["HTS 2015","Our method"], "range": [[5,3],[1,0]]}, "title": "Data Source"}}}
]},
{"width": 214, "height": 133, "view": {"stroke": "#B3B3B3"}, "data": {"name": "slots"}, "transform": [{"filter": "datum.m === 'Car' && datum.c === '9-2022'"}], "resolve": {"axis": {"y": "independent"}},
"encoding": {"x": {"field": "t", "type": "ordinal", "scale": {"type": "point", "padding": 0.6}, "axis": {"labels": false, "title": null, "grid": true}}},
"layer": [
{"mark": {"type": "area", "opacity": 0.4}, "encoding": {"y": {"field": "lo", "type": "quantitative", "scale": {"domain": [-0.05, 1.05], "nice": false, "zero": false}, "axis": {"values": [0,0.125,0.25,0.375,0.5,0.625,0.75,0.875,1], "labels": false, "title": null, "grid": true}}, "y2": {"field": "hi"}, "color": {"field": "m", "type": "nominal", "scale": {"domain": ["Car","Public transit","Other"], "range": ["#FF8C00","#4682B4","#228B22"]}, "title": "Mode of Transport"}}},
{"mark": {"type": "line", "strokeDash": [2,2], "strokeWidth": 0.7}, "encoding": {"y": {"field": "lo", "type": "quantitative", "scale": {"domain": [-0.05, 1.05], "nice": false, "zero": false}, "axis": null}, "color": {"field": "m", "type": "nominal", "scale": {"domain": ["Car","Public transit","Other"], "range": ["#FF8C00","#4682B4","#228B22"]}, "title": "Mode of Transport"}}},
{"mark": {"type": "line", "strokeDash": [2,2], "strokeWidth": 0.7}, "encoding": {"y": {"field": "hi", "type": "quantitative", "scale": {"domain": [-0.05, 1.05], "nice": false, "zero": false}, "axis": null}, "color": {"field": "m", "type": "nominal", "scale": {"domain": ["Car","Public transit","Other"], "range": ["#FF8C00","#4682B4","#228B22"]}, "title": "Mode of Transport"}}},
{"mark": {"type": "line", "strokeWidth": 1.3}, "encoding": {"y": {"field": "hts", "type": "quantitative", "scale": {"domain": [-0.05, 1.05], "nice": false, "zero": false}, "axis": null}, "color": {"field": "m", "type": "nominal", "scale": {"domain": ["Car","Public transit","Other"], "range": ["#FF8C00","#4682B4","#228B22"]}, "title": "Mode of Transport"}, "strokeDash": {"datum": "HTS 2015", "type": "nominal", "scale": {"domain": ["HTS 2015","Our method"], "range": [[5,3],[1,0]]}, "title": "Data Source"}}},
{"mark": {"type": "line", "strokeWidth": 1.3}, "encoding": {"y": {"field": "our", "type": "quantitative", "scale": {"domain": [-0.05, 1.05], "nice": false, "zero": false}, "axis": null}, "color": {"field": "m", "type": "nominal", "scale": {"domain": ["Car","Public transit","Other"], "range": ["#FF8C00","#4682B4","#228B22"]}, "title": "Mode of Transport"}, "strokeDash": {"datum": "Our method", "type": "nominal", "scale": {"domain": ["HTS 2015","Our method"], "range": [[5,3],[1,0]]}, "title": "Data Source"}}}
]}
]}
]},
{"bounds": "flush", "spacing": 6, "hconcat": [
{"width": 218, "height": 133, "view": {"stroke": "#B3B3B3"}, "data": {"name": "slots"}, "transform": [{"filter": "datum.m === 'Public transit' && datum.c === '3-2022'"}], "resolve": {"axis": {"y": "independent"}},
"encoding": {"x": {"field": "t", "type": "ordinal", "scale": {"type": "point", "padding": 0.6}, "axis": {"labels": false, "title": null, "grid": true}}},
"layer": [
{"mark": {"type": "area", "opacity": 0.4}, "encoding": {"y": {"field": "lo", "type": "quantitative", "scale": {"domain": [-0.05, 1.05], "nice": false, "zero": false}, "axis": {"values": [0,0.125,0.25,0.375,0.5,0.625,0.75,0.875,1], "labelExpr": "(datum.value*4) % 1 === 0 ? format(datum.value, '.2f') : ''", "labelFontSize": 8, "labelPadding": 4, "title": "Modal shares", "titleFontSize": 12, "titlePadding": 5, "minExtent": 22, "maxExtent": 22, "grid": true}}, "y2": {"field": "hi"}, "color": {"field": "m", "type": "nominal", "scale": {"domain": ["Car","Public transit","Other"], "range": ["#FF8C00","#4682B4","#228B22"]}, "title": "Mode of Transport"}}},
{"mark": {"type": "line", "strokeDash": [2,2], "strokeWidth": 0.7}, "encoding": {"y": {"field": "lo", "type": "quantitative", "scale": {"domain": [-0.05, 1.05], "nice": false, "zero": false}, "axis": null}, "color": {"field": "m", "type": "nominal", "scale": {"domain": ["Car","Public transit","Other"], "range": ["#FF8C00","#4682B4","#228B22"]}, "title": "Mode of Transport"}}},
{"mark": {"type": "line", "strokeDash": [2,2], "strokeWidth": 0.7}, "encoding": {"y": {"field": "hi", "type": "quantitative", "scale": {"domain": [-0.05, 1.05], "nice": false, "zero": false}, "axis": null}, "color": {"field": "m", "type": "nominal", "scale": {"domain": ["Car","Public transit","Other"], "range": ["#FF8C00","#4682B4","#228B22"]}, "title": "Mode of Transport"}}},
{"mark": {"type": "line", "strokeWidth": 1.3}, "encoding": {"y": {"field": "hts", "type": "quantitative", "scale": {"domain": [-0.05, 1.05], "nice": false, "zero": false}, "axis": null}, "color": {"field": "m", "type": "nominal", "scale": {"domain": ["Car","Public transit","Other"], "range": ["#FF8C00","#4682B4","#228B22"]}, "title": "Mode of Transport"}, "strokeDash": {"datum": "HTS 2015", "type": "nominal", "scale": {"domain": ["HTS 2015","Our method"], "range": [[5,3],[1,0]]}, "title": "Data Source"}}},
{"mark": {"type": "line", "strokeWidth": 1.3}, "encoding": {"y": {"field": "our", "type": "quantitative", "scale": {"domain": [-0.05, 1.05], "nice": false, "zero": false}, "axis": null}, "color": {"field": "m", "type": "nominal", "scale": {"domain": ["Car","Public transit","Other"], "range": ["#FF8C00","#4682B4","#228B22"]}, "title": "Mode of Transport"}, "strokeDash": {"datum": "Our method", "type": "nominal", "scale": {"domain": ["HTS 2015","Our method"], "range": [[5,3],[1,0]]}, "title": "Data Source"}}}
]},
{"width": 214, "height": 133, "view": {"stroke": "#B3B3B3"}, "data": {"name": "slots"}, "transform": [{"filter": "datum.m === 'Public transit' && datum.c === '9-2022'"}], "resolve": {"axis": {"y": "independent"}},
"encoding": {"x": {"field": "t", "type": "ordinal", "scale": {"type": "point", "padding": 0.6}, "axis": {"labels": false, "title": null, "grid": true}}},
"layer": [
{"mark": {"type": "area", "opacity": 0.4}, "encoding": {"y": {"field": "lo", "type": "quantitative", "scale": {"domain": [-0.05, 1.05], "nice": false, "zero": false}, "axis": {"values": [0,0.125,0.25,0.375,0.5,0.625,0.75,0.875,1], "labels": false, "title": null, "grid": true}}, "y2": {"field": "hi"}, "color": {"field": "m", "type": "nominal", "scale": {"domain": ["Car","Public transit","Other"], "range": ["#FF8C00","#4682B4","#228B22"]}, "title": "Mode of Transport"}}},
{"mark": {"type": "line", "strokeDash": [2,2], "strokeWidth": 0.7}, "encoding": {"y": {"field": "lo", "type": "quantitative", "scale": {"domain": [-0.05, 1.05], "nice": false, "zero": false}, "axis": null}, "color": {"field": "m", "type": "nominal", "scale": {"domain": ["Car","Public transit","Other"], "range": ["#FF8C00","#4682B4","#228B22"]}, "title": "Mode of Transport"}}},
{"mark": {"type": "line", "strokeDash": [2,2], "strokeWidth": 0.7}, "encoding": {"y": {"field": "hi", "type": "quantitative", "scale": {"domain": [-0.05, 1.05], "nice": false, "zero": false}, "axis": null}, "color": {"field": "m", "type": "nominal", "scale": {"domain": ["Car","Public transit","Other"], "range": ["#FF8C00","#4682B4","#228B22"]}, "title": "Mode of Transport"}}},
{"mark": {"type": "line", "strokeWidth": 1.3}, "encoding": {"y": {"field": "hts", "type": "quantitative", "scale": {"domain": [-0.05, 1.05], "nice": false, "zero": false}, "axis": null}, "color": {"field": "m", "type": "nominal", "scale": {"domain": ["Car","Public transit","Other"], "range": ["#FF8C00","#4682B4","#228B22"]}, "title": "Mode of Transport"}, "strokeDash": {"datum": "HTS 2015", "type": "nominal", "scale": {"domain": ["HTS 2015","Our method"], "range": [[5,3],[1,0]]}, "title": "Data Source"}}},
{"mark": {"type": "line", "strokeWidth": 1.3}, "encoding": {"y": {"field": "our", "type": "quantitative", "scale": {"domain": [-0.05, 1.05], "nice": false, "zero": false}, "axis": null}, "color": {"field": "m", "type": "nominal", "scale": {"domain": ["Car","Public transit","Other"], "range": ["#FF8C00","#4682B4","#228B22"]}, "title": "Mode of Transport"}, "strokeDash": {"datum": "Our method", "type": "nominal", "scale": {"domain": ["HTS 2015","Our method"], "range": [[5,3],[1,0]]}, "title": "Data Source"}}}
]}
]},
{"bounds": "flush", "spacing": 6, "hconcat": [
{"width": 218, "height": 133, "view": {"stroke": "#B3B3B3"}, "data": {"name": "slots"}, "transform": [{"filter": "datum.m === 'Other' && datum.c === '3-2022'"}], "resolve": {"axis": {"y": "independent"}},
"encoding": {"x": {"field": "t", "type": "ordinal", "scale": {"type": "point", "padding": 0.6}, "axis": {"labelAngle": -45, "labelAlign": "right", "labelBaseline": "top", "labelFontSize": 8, "labelPadding": 3, "title": "Time of Day", "titleFontSize": 12, "titleX": 222, "titlePadding": 9, "grid": true}}},
"layer": [
{"mark": {"type": "area", "opacity": 0.4}, "encoding": {"y": {"field": "lo", "type": "quantitative", "scale": {"domain": [-0.05, 1.05], "nice": false, "zero": false}, "axis": {"values": [0,0.125,0.25,0.375,0.5,0.625,0.75,0.875,1], "labelExpr": "(datum.value*4) % 1 === 0 ? format(datum.value, '.2f') : ''", "labelFontSize": 8, "labelPadding": 4, "title": " ", "titleFontSize": 12, "titlePadding": 5, "minExtent": 22, "maxExtent": 22, "grid": true}}, "y2": {"field": "hi"}, "color": {"field": "m", "type": "nominal", "scale": {"domain": ["Car","Public transit","Other"], "range": ["#FF8C00","#4682B4","#228B22"]}, "title": "Mode of Transport"}}},
{"mark": {"type": "line", "strokeDash": [2,2], "strokeWidth": 0.7}, "encoding": {"y": {"field": "lo", "type": "quantitative", "scale": {"domain": [-0.05, 1.05], "nice": false, "zero": false}, "axis": null}, "color": {"field": "m", "type": "nominal", "scale": {"domain": ["Car","Public transit","Other"], "range": ["#FF8C00","#4682B4","#228B22"]}, "title": "Mode of Transport"}}},
{"mark": {"type": "line", "strokeDash": [2,2], "strokeWidth": 0.7}, "encoding": {"y": {"field": "hi", "type": "quantitative", "scale": {"domain": [-0.05, 1.05], "nice": false, "zero": false}, "axis": null}, "color": {"field": "m", "type": "nominal", "scale": {"domain": ["Car","Public transit","Other"], "range": ["#FF8C00","#4682B4","#228B22"]}, "title": "Mode of Transport"}}},
{"mark": {"type": "line", "strokeWidth": 1.3}, "encoding": {"y": {"field": "hts", "type": "quantitative", "scale": {"domain": [-0.05, 1.05], "nice": false, "zero": false}, "axis": null}, "color": {"field": "m", "type": "nominal", "scale": {"domain": ["Car","Public transit","Other"], "range": ["#FF8C00","#4682B4","#228B22"]}, "title": "Mode of Transport"}, "strokeDash": {"datum": "HTS 2015", "type": "nominal", "scale": {"domain": ["HTS 2015","Our method"], "range": [[5,3],[1,0]]}, "title": "Data Source"}}},
{"mark": {"type": "line", "strokeWidth": 1.3}, "encoding": {"y": {"field": "our", "type": "quantitative", "scale": {"domain": [-0.05, 1.05], "nice": false, "zero": false}, "axis": null}, "color": {"field": "m", "type": "nominal", "scale": {"domain": ["Car","Public transit","Other"], "range": ["#FF8C00","#4682B4","#228B22"]}, "title": "Mode of Transport"}, "strokeDash": {"datum": "Our method", "type": "nominal", "scale": {"domain": ["HTS 2015","Our method"], "range": [[5,3],[1,0]]}, "title": "Data Source"}}}
]},
{"width": 214, "height": 133, "view": {"stroke": "#B3B3B3"}, "data": {"name": "slots"}, "transform": [{"filter": "datum.m === 'Other' && datum.c === '9-2022'"}], "resolve": {"axis": {"y": "independent"}},
"encoding": {"x": {"field": "t", "type": "ordinal", "scale": {"type": "point", "padding": 0.6}, "axis": {"labelAngle": -45, "labelAlign": "right", "labelBaseline": "top", "labelFontSize": 8, "labelPadding": 3, "title": null, "grid": true}}},
"layer": [
{"mark": {"type": "area", "opacity": 0.4}, "encoding": {"y": {"field": "lo", "type": "quantitative", "scale": {"domain": [-0.05, 1.05], "nice": false, "zero": false}, "axis": {"values": [0,0.125,0.25,0.375,0.5,0.625,0.75,0.875,1], "labels": false, "title": null, "grid": true}}, "y2": {"field": "hi"}, "color": {"field": "m", "type": "nominal", "scale": {"domain": ["Car","Public transit","Other"], "range": ["#FF8C00","#4682B4","#228B22"]}, "title": "Mode of Transport"}}},
{"mark": {"type": "line", "strokeDash": [2,2], "strokeWidth": 0.7}, "encoding": {"y": {"field": "lo", "type": "quantitative", "scale": {"domain": [-0.05, 1.05], "nice": false, "zero": false}, "axis": null}, "color": {"field": "m", "type": "nominal", "scale": {"domain": ["Car","Public transit","Other"], "range": ["#FF8C00","#4682B4","#228B22"]}, "title": "Mode of Transport"}}},
{"mark": {"type": "line", "strokeDash": [2,2], "strokeWidth": 0.7}, "encoding": {"y": {"field": "hi", "type": "quantitative", "scale": {"domain": [-0.05, 1.05], "nice": false, "zero": false}, "axis": null}, "color": {"field": "m", "type": "nominal", "scale": {"domain": ["Car","Public transit","Other"], "range": ["#FF8C00","#4682B4","#228B22"]}, "title": "Mode of Transport"}}},
{"mark": {"type": "line", "strokeWidth": 1.3}, "encoding": {"y": {"field": "hts", "type": "quantitative", "scale": {"domain": [-0.05, 1.05], "nice": false, "zero": false}, "axis": null}, "color": {"field": "m", "type": "nominal", "scale": {"domain": ["Car","Public transit","Other"], "range": ["#FF8C00","#4682B4","#228B22"]}, "title": "Mode of Transport"}, "strokeDash": {"datum": "HTS 2015", "type": "nominal", "scale": {"domain": ["HTS 2015","Our method"], "range": [[5,3],[1,0]]}, "title": "Data Source"}}},
{"mark": {"type": "line", "strokeWidth": 1.3}, "encoding": {"y": {"field": "our", "type": "quantitative", "scale": {"domain": [-0.05, 1.05], "nice": false, "zero": false}, "axis": null}, "color": {"field": "m", "type": "nominal", "scale": {"domain": ["Car","Public transit","Other"], "range": ["#FF8C00","#4682B4","#228B22"]}, "title": "Mode of Transport"}, "strokeDash": {"datum": "Our method", "type": "nominal", "scale": {"domain": ["HTS 2015","Our method"], "range": [[5,3],[1,0]]}, "title": "Data Source"}}}
]}
]}
]
}
],
"config": {
"font": "Liberation Sans",
"view": {"stroke": null},
"axis": {"domain": false, "ticks": false, "gridColor": "#EBEBEB", "gridWidth": 0.8, "labelColor": "#4D4D4D", "titleColor": "#000", "titleFontWeight": "bold"},
"title": {"fontWeight": "bold", "color": "#000"},
"legend": {"titleFontWeight": "normal", "titleFontSize": 14, "labelFontSize": 12.5, "titleColor": "#1A1A1A", "labelColor": "#1A1A1A"}
}
}
